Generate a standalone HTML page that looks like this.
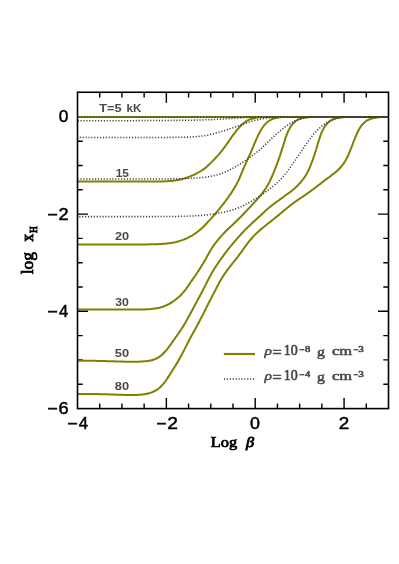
<!DOCTYPE html>
<html><head><meta charset="utf-8"><title>plot</title><style>html,body{margin:0;padding:0;background:#fff}svg{display:block}svg{will-change:transform}</style></head><body>
<svg width="399" height="564" viewBox="0 0 399 564">
<rect width="399" height="564" fill="#fff"/>
<defs><clipPath id="c"><rect x="77.5" y="92.2" width="311.0" height="316.4"/></clipPath></defs>
<path d="M99.71 408.60 v-5.20 M99.71 92.25 v5.20 M121.93 408.60 v-5.20 M121.93 92.25 v5.20 M144.14 408.60 v-5.20 M144.14 92.25 v5.20 M166.36 408.60 v-10.50 M166.36 92.25 v10.50 M188.57 408.60 v-5.20 M188.57 92.25 v5.20 M210.79 408.60 v-5.20 M210.79 92.25 v5.20 M233.00 408.60 v-5.20 M233.00 92.25 v5.20 M255.21 408.60 v-10.50 M255.21 92.25 v10.50 M277.43 408.60 v-5.20 M277.43 92.25 v5.20 M299.64 408.60 v-5.20 M299.64 92.25 v5.20 M321.86 408.60 v-5.20 M321.86 92.25 v5.20 M344.07 408.60 v-10.50 M344.07 92.25 v10.50 M366.29 408.60 v-5.20 M366.29 92.25 v5.20 M77.50 384.20 h5.20 M388.50 384.20 h-5.20 M77.50 359.90 h5.20 M388.50 359.90 h-5.20 M77.50 335.60 h5.20 M388.50 335.60 h-5.20 M77.50 311.30 h10.50 M388.50 311.30 h-10.50 M77.50 287.00 h5.20 M388.50 287.00 h-5.20 M77.50 262.70 h5.20 M388.50 262.70 h-5.20 M77.50 238.40 h5.20 M388.50 238.40 h-5.20 M77.50 214.10 h10.50 M388.50 214.10 h-10.50 M77.50 189.80 h5.20 M388.50 189.80 h-5.20 M77.50 165.50 h5.20 M388.50 165.50 h-5.20 M77.50 141.20 h5.20 M388.50 141.20 h-5.20 M77.50 116.90 h10.50 M388.50 116.90 h-10.50" stroke="#000" stroke-width="1.4" fill="none"/>
<g clip-path="url(#c)" fill="none">
<path d="M77.50 181.50 C77.83 181.50 78.83 181.50 79.50 181.50 C80.17 181.50 80.83 181.50 81.50 181.50 C82.17 181.50 82.83 181.50 83.50 181.50 C84.17 181.50 84.83 181.50 85.50 181.50 C86.17 181.50 86.83 181.50 87.50 181.50 C88.17 181.50 88.83 181.50 89.50 181.50 C90.17 181.50 90.83 181.50 91.50 181.50 C92.17 181.50 92.83 181.50 93.50 181.50 C94.17 181.50 94.83 181.50 95.50 181.50 C96.17 181.50 96.83 181.50 97.50 181.50 C98.17 181.50 98.83 181.50 99.50 181.50 C100.17 181.50 100.83 181.50 101.50 181.50 C102.17 181.50 102.83 181.50 103.50 181.50 C104.17 181.50 104.83 181.50 105.50 181.50 C106.17 181.50 106.83 181.50 107.50 181.50 C108.17 181.50 108.83 181.50 109.50 181.50 C110.17 181.50 110.83 181.50 111.50 181.50 C112.17 181.50 112.83 181.50 113.50 181.50 C114.17 181.50 114.83 181.50 115.50 181.50 C116.17 181.50 116.83 181.50 117.50 181.50 C118.17 181.50 118.83 181.50 119.50 181.50 C120.17 181.50 120.83 181.50 121.50 181.50 C122.17 181.50 122.83 181.50 123.50 181.50 C124.17 181.50 124.83 181.50 125.50 181.50 C126.17 181.50 126.83 181.50 127.50 181.50 C128.17 181.50 128.83 181.50 129.50 181.50 C130.17 181.50 130.83 181.50 131.50 181.50 C132.17 181.50 132.83 181.50 133.50 181.50 C134.17 181.50 134.83 181.50 135.50 181.50 C136.17 181.50 136.83 181.50 137.50 181.50 C138.17 181.50 138.83 181.50 139.50 181.50 C140.17 181.50 140.83 181.50 141.50 181.50 C142.17 181.50 142.84 181.50 143.50 181.50 C144.17 181.50 144.84 181.51 145.51 181.51 C146.17 181.51 146.84 181.51 147.51 181.51 C148.18 181.51 148.85 181.51 149.51 181.51 C150.18 181.52 150.85 181.52 151.52 181.52 C152.18 181.52 152.85 181.52 153.52 181.52 C154.18 181.52 154.85 181.52 155.52 181.52 C156.18 181.52 156.85 181.51 157.51 181.51 C158.17 181.50 158.83 181.50 159.49 181.49 C160.15 181.48 160.80 181.47 161.46 181.46 C162.11 181.44 162.76 181.43 163.41 181.41 C164.05 181.39 164.70 181.37 165.34 181.34 C165.97 181.31 166.61 181.28 167.24 181.24 C167.87 181.21 168.50 181.17 169.12 181.12 C169.74 181.08 170.36 181.02 170.97 180.97 C171.57 180.91 172.18 180.85 172.78 180.78 C173.37 180.71 173.97 180.63 174.55 180.55 C175.13 180.47 175.72 180.38 176.29 180.29 C176.86 180.20 177.43 180.09 177.99 179.99 C178.54 179.88 179.10 179.77 179.65 179.65 C180.19 179.53 180.74 179.40 181.27 179.27 C181.80 179.14 182.34 179.00 182.86 178.86 C183.38 178.72 183.90 178.57 184.41 178.41 C184.92 178.26 185.43 178.10 185.94 177.94 C186.43 177.77 186.93 177.60 187.43 177.43 C187.92 177.25 188.41 177.07 188.89 176.89 C189.37 176.71 189.85 176.52 190.32 176.32 C190.80 176.13 191.27 175.94 191.74 175.74 C192.20 175.54 192.67 175.33 193.13 175.13 C193.59 174.92 194.05 174.71 194.50 174.50 C194.95 174.29 195.40 174.07 195.85 173.85 C196.29 173.63 196.74 173.41 197.18 173.18 C197.61 172.95 198.05 172.71 198.47 172.47 C198.90 172.24 199.33 171.99 199.74 171.74 C200.16 171.49 200.57 171.24 200.98 170.98 C201.38 170.72 201.79 170.45 202.18 170.18 C202.58 169.91 202.97 169.64 203.36 169.36 C203.74 169.08 204.13 168.79 204.50 168.50 C204.88 168.21 205.25 167.92 205.62 167.62 C205.98 167.32 206.35 167.01 206.71 166.71 C207.06 166.40 207.42 166.09 207.77 165.77 C208.12 165.46 208.47 165.14 208.82 164.82 C209.16 164.49 209.50 164.17 209.84 163.84 C210.19 163.52 210.52 163.19 210.86 162.86 C211.20 162.53 211.53 162.20 211.86 161.86 C212.20 161.53 212.53 161.20 212.86 160.86 C213.19 160.52 213.52 160.18 213.84 159.84 C214.17 159.50 214.49 159.16 214.82 158.82 C215.14 158.47 215.46 158.13 215.78 157.78 C216.10 157.44 216.42 157.09 216.74 156.74 C217.06 156.39 217.38 156.04 217.69 155.69 C218.00 155.34 218.32 154.98 218.63 154.63 C218.94 154.27 219.25 153.92 219.56 153.56 C219.86 153.20 220.17 152.84 220.47 152.47 C220.78 152.11 221.08 151.74 221.38 151.38 C221.67 151.01 221.97 150.64 222.27 150.27 C222.56 149.89 222.85 149.52 223.14 149.14 C223.43 148.76 223.72 148.38 224.00 148.00 C224.28 147.62 224.57 147.23 224.85 146.85 C225.13 146.46 225.40 146.07 225.68 145.68 C225.96 145.29 226.23 144.90 226.50 144.50 C226.78 144.11 227.05 143.72 227.32 143.32 C227.59 142.92 227.86 142.53 228.13 142.13 C228.40 141.74 228.67 141.34 228.94 140.94 C229.21 140.55 229.48 140.15 229.75 139.75 C230.03 139.36 230.30 138.96 230.57 138.57 C230.84 138.18 231.12 137.79 231.39 137.39 C231.67 137.00 231.95 136.61 232.23 136.23 C232.51 135.84 232.79 135.45 233.07 135.07 C233.35 134.68 233.63 134.30 233.92 133.92 C234.21 133.54 234.49 133.16 234.79 132.79 C235.08 132.41 235.37 132.03 235.66 131.66 C235.96 131.29 236.25 130.92 236.55 130.55 C236.85 130.19 237.15 129.82 237.46 129.46 C237.76 129.10 238.07 128.74 238.38 128.38 C238.69 128.02 239.00 127.67 239.32 127.32 C239.64 126.97 239.95 126.62 240.28 126.28 C240.60 125.94 240.93 125.60 241.27 125.27 C241.60 124.94 241.94 124.61 242.29 124.29 C242.64 123.97 243.00 123.66 243.36 123.36 C243.72 123.06 244.10 122.76 244.48 122.48 C244.86 122.20 245.26 121.92 245.66 121.66 C246.06 121.39 246.48 121.14 246.90 120.90 C247.32 120.66 247.76 120.42 248.21 120.21 C248.66 119.99 249.12 119.78 249.59 119.59 C250.06 119.39 250.55 119.21 251.04 119.04 C251.53 118.87 252.05 118.71 252.56 118.56 C253.08 118.41 253.62 118.27 254.15 118.15 C254.69 118.03 255.26 117.91 255.81 117.81 C256.37 117.71 256.96 117.62 257.53 117.53 C258.12 117.45 258.72 117.38 259.32 117.32 C259.92 117.25 260.54 117.20 261.15 117.15 C261.77 117.10 262.40 117.06 263.03 117.03 C263.66 116.99 264.31 116.97 264.95 116.95 C265.59 116.92 266.25 116.91 266.90 116.90 C267.55 116.89 268.21 116.90 268.87 116.90 C269.53 116.90 270.20 116.90 270.86 116.90 C271.53 116.90 272.19 116.90 272.86 116.90 C273.53 116.90 274.20 116.90 274.87 116.90 C275.54 116.90 276.21 116.90 276.88 116.90 C277.54 116.90 278.21 116.90 278.88 116.90 C279.55 116.90 280.22 116.90 280.89 116.90 C281.56 116.90 282.23 116.90 282.89 116.90 C283.56 116.90 284.23 116.90 284.90 116.90 C285.57 116.90 286.23 116.90 286.90 116.90 C287.57 116.90 288.23 116.90 288.90 116.90 C289.57 116.90 290.24 116.90 290.90 116.90 C291.57 116.90 292.24 116.90 292.90 116.90 C293.57 116.90 294.23 116.90 294.90 116.90 C295.57 116.90 296.23 116.90 296.90 116.90 C297.57 116.90 298.23 116.90 298.90 116.90 C299.57 116.90 300.23 116.90 300.90 116.90 C301.57 116.90 302.23 116.90 302.90 116.90 C317.50 116.90 374.23 116.90 388.50 116.90" stroke="#808000" stroke-width="2" stroke-linejoin="round"/>
<path d="M77.50 244.40 C77.83 244.40 78.83 244.40 79.50 244.40 C80.17 244.40 80.83 244.40 81.50 244.40 C82.17 244.40 82.83 244.40 83.50 244.40 C84.17 244.40 84.83 244.40 85.50 244.40 C86.17 244.40 86.83 244.40 87.50 244.40 C88.17 244.40 88.83 244.40 89.50 244.40 C90.17 244.40 90.83 244.40 91.50 244.40 C92.17 244.40 92.83 244.40 93.50 244.40 C94.17 244.40 94.83 244.40 95.50 244.40 C96.17 244.40 96.83 244.40 97.50 244.40 C98.17 244.40 98.83 244.40 99.50 244.40 C100.17 244.40 100.83 244.40 101.50 244.40 C102.17 244.40 102.83 244.40 103.50 244.40 C104.17 244.40 104.83 244.40 105.50 244.40 C106.17 244.40 106.83 244.40 107.50 244.40 C108.17 244.40 108.83 244.40 109.50 244.40 C110.17 244.40 110.83 244.40 111.50 244.40 C112.17 244.40 112.83 244.40 113.50 244.40 C114.17 244.40 114.83 244.40 115.50 244.40 C116.17 244.40 116.83 244.40 117.50 244.40 C118.17 244.40 118.83 244.40 119.50 244.40 C120.17 244.40 120.83 244.40 121.50 244.40 C122.17 244.40 122.83 244.40 123.50 244.40 C124.17 244.40 124.83 244.40 125.50 244.40 C126.17 244.40 126.83 244.40 127.50 244.40 C128.17 244.40 128.83 244.40 129.50 244.40 C130.17 244.40 130.84 244.40 131.50 244.40 C132.17 244.40 132.84 244.40 133.50 244.40 C134.17 244.41 134.84 244.41 135.51 244.41 C136.17 244.41 136.84 244.41 137.51 244.41 C138.18 244.41 138.84 244.41 139.51 244.41 C140.18 244.41 140.85 244.41 141.51 244.41 C142.18 244.41 142.85 244.41 143.51 244.41 C144.18 244.41 144.84 244.41 145.51 244.41 C146.17 244.40 146.83 244.40 147.50 244.40 C148.16 244.39 148.82 244.38 149.47 244.37 C150.13 244.37 150.79 244.36 151.44 244.34 C152.09 244.33 152.75 244.31 153.40 244.30 C154.04 244.28 154.69 244.26 155.34 244.24 C155.98 244.22 156.63 244.19 157.27 244.17 C157.90 244.14 158.54 244.11 159.18 244.08 C159.81 244.05 160.45 244.01 161.07 243.97 C161.70 243.94 162.33 243.90 162.95 243.85 C163.57 243.81 164.20 243.76 164.81 243.71 C165.42 243.66 166.04 243.60 166.64 243.54 C167.24 243.48 167.85 243.41 168.44 243.34 C169.03 243.27 169.62 243.19 170.21 243.11 C170.78 243.02 171.37 242.93 171.94 242.84 C172.50 242.74 173.07 242.64 173.63 242.53 C174.18 242.42 174.73 242.30 175.28 242.18 C175.82 242.06 176.36 241.93 176.89 241.79 C177.42 241.66 177.95 241.51 178.47 241.37 C178.98 241.22 179.50 241.06 180.01 240.91 C180.51 240.75 181.01 240.58 181.51 240.41 C182.00 240.24 182.49 240.06 182.98 239.88 C183.46 239.70 183.94 239.51 184.41 239.31 C184.88 239.12 185.35 238.92 185.82 238.72 C186.28 238.51 186.73 238.30 187.19 238.09 C187.64 237.87 188.09 237.65 188.53 237.43 C188.97 237.20 189.41 236.97 189.84 236.74 C190.27 236.51 190.70 236.27 191.12 236.02 C191.55 235.78 191.97 235.53 192.38 235.28 C192.79 235.03 193.21 234.77 193.61 234.51 C194.02 234.25 194.42 233.99 194.82 233.72 C195.22 233.45 195.61 233.18 196.00 232.90 C196.39 232.62 196.77 232.34 197.16 232.06 C197.54 231.77 197.91 231.48 198.29 231.19 C198.66 230.89 199.03 230.60 199.39 230.29 C199.76 229.99 200.12 229.69 200.48 229.38 C200.83 229.07 201.19 228.75 201.54 228.44 C201.89 228.12 202.23 227.80 202.58 227.48 C202.92 227.15 203.26 226.83 203.60 226.50 C203.94 226.17 204.27 225.84 204.60 225.50 C204.94 225.17 205.27 224.83 205.59 224.49 C205.92 224.16 206.25 223.82 206.57 223.47 C206.90 223.13 207.22 222.79 207.54 222.44 C207.86 222.10 208.18 221.75 208.50 221.40 C208.82 221.06 209.14 220.71 209.46 220.36 C209.78 220.01 210.09 219.66 210.41 219.31 C210.72 218.96 211.04 218.61 211.35 218.25 C211.67 217.90 211.98 217.55 212.29 217.19 C212.61 216.84 212.92 216.49 213.23 216.13 C213.54 215.78 213.85 215.42 214.16 215.06 C214.47 214.71 214.78 214.35 215.09 213.99 C215.40 213.63 215.71 213.27 216.01 212.91 C216.32 212.55 216.62 212.19 216.93 211.83 C217.23 211.47 217.54 211.10 217.84 210.74 C218.14 210.38 218.44 210.01 218.75 209.65 C219.05 209.28 219.35 208.91 219.65 208.55 C219.95 208.18 220.24 207.81 220.54 207.44 C220.84 207.07 221.13 206.70 221.43 206.33 C221.72 205.96 222.02 205.59 222.31 205.21 C222.61 204.84 222.90 204.46 223.19 204.09 C223.48 203.71 223.77 203.34 224.06 202.96 C224.35 202.58 224.64 202.20 224.92 201.82 C225.21 201.44 225.49 201.06 225.78 200.68 C226.06 200.30 226.35 199.91 226.63 199.53 C226.91 199.14 227.19 198.76 227.47 198.37 C227.75 197.98 228.03 197.59 228.30 197.20 C228.58 196.81 228.86 196.42 229.13 196.03 C229.40 195.64 229.68 195.24 229.95 194.85 C230.22 194.46 230.49 194.06 230.76 193.66 C231.03 193.26 231.30 192.87 231.57 192.47 C231.83 192.06 232.10 191.66 232.36 191.26 C232.62 190.85 232.88 190.45 233.14 190.04 C233.40 189.63 233.66 189.22 233.91 188.81 C234.16 188.40 234.41 187.98 234.66 187.56 C234.91 187.14 235.16 186.72 235.40 186.30 C235.64 185.88 235.88 185.45 236.12 185.02 C236.36 184.59 236.60 184.16 236.83 183.73 C237.06 183.29 237.29 182.85 237.51 182.41 C237.74 181.97 237.96 181.52 238.18 181.08 C238.39 180.63 238.61 180.17 238.82 179.72 C239.03 179.26 239.23 178.80 239.44 178.34 C239.64 177.87 239.84 177.41 240.04 176.94 C240.24 176.47 240.43 176.00 240.63 175.53 C240.83 175.06 241.02 174.59 241.21 174.11 C241.41 173.64 241.60 173.17 241.80 172.70 C241.99 172.23 242.19 171.75 242.38 171.28 C242.58 170.81 242.78 170.35 242.98 169.88 C243.18 169.41 243.37 168.94 243.57 168.47 C243.78 168.01 243.98 167.54 244.18 167.08 C244.38 166.61 244.58 166.15 244.79 165.69 C244.99 165.23 245.20 164.76 245.40 164.30 C245.61 163.84 245.81 163.38 246.02 162.92 C246.23 162.46 246.44 162.00 246.64 161.54 C246.85 161.09 247.06 160.63 247.27 160.17 C247.48 159.71 247.69 159.25 247.90 158.80 C248.10 158.34 248.31 157.88 248.52 157.42 C248.73 156.96 248.94 156.51 249.15 156.05 C249.36 155.59 249.56 155.13 249.77 154.67 C249.98 154.21 250.19 153.75 250.39 153.29 C250.60 152.83 250.80 152.37 251.00 151.90 C251.21 151.44 251.41 150.97 251.61 150.51 C251.81 150.04 252.01 149.57 252.21 149.11 C252.40 148.64 252.60 148.17 252.80 147.70 C252.99 147.23 253.19 146.75 253.38 146.28 C253.58 145.81 253.77 145.34 253.96 144.86 C254.16 144.39 254.35 143.92 254.55 143.45 C254.74 142.97 254.94 142.50 255.13 142.03 C255.33 141.56 255.53 141.09 255.73 140.63 C255.92 140.16 256.13 139.69 256.33 139.23 C256.53 138.77 256.74 138.30 256.95 137.85 C257.15 137.39 257.36 136.93 257.58 136.48 C257.79 136.02 258.00 135.57 258.22 135.12 C258.44 134.67 258.66 134.23 258.89 133.79 C259.11 133.35 259.34 132.91 259.57 132.47 C259.80 132.04 260.04 131.61 260.28 131.18 C260.52 130.76 260.77 130.33 261.02 129.92 C261.27 129.50 261.52 129.09 261.78 128.68 C262.04 128.27 262.30 127.87 262.58 127.48 C262.85 127.08 263.13 126.69 263.41 126.31 C263.70 125.93 263.99 125.56 264.29 125.19 C264.60 124.83 264.91 124.47 265.23 124.13 C265.55 123.78 265.88 123.44 266.22 123.12 C266.56 122.79 266.91 122.47 267.27 122.17 C267.63 121.86 268.01 121.57 268.39 121.29 C268.78 121.01 269.18 120.74 269.59 120.49 C270.00 120.23 270.43 119.99 270.86 119.76 C271.30 119.53 271.76 119.32 272.22 119.12 C272.68 118.92 273.17 118.73 273.66 118.56 C274.15 118.39 274.67 118.23 275.19 118.09 C275.71 117.94 276.26 117.81 276.80 117.70 C277.35 117.58 277.93 117.48 278.49 117.39 C279.07 117.31 279.67 117.23 280.27 117.17 C280.87 117.10 281.50 117.05 282.11 117.01 C282.74 116.97 283.38 116.93 284.01 116.91 C284.65 116.89 285.31 116.90 285.96 116.90 C286.61 116.90 287.28 116.90 287.94 116.90 C288.60 116.90 289.27 116.90 289.93 116.90 C290.60 116.90 291.27 116.90 291.94 116.90 C292.61 116.90 293.28 116.90 293.95 116.90 C294.63 116.90 295.30 116.90 295.97 116.90 C296.64 116.90 297.31 116.90 297.98 116.90 C298.65 116.90 299.32 116.90 299.99 116.90 C300.66 116.90 301.33 116.90 302.00 116.90 C302.66 116.90 303.33 116.90 304.00 116.90 C304.67 116.90 305.33 116.90 306.00 116.90 C306.67 116.90 307.34 116.90 308.00 116.90 C308.67 116.90 309.34 116.90 310.00 116.90 C310.67 116.90 311.34 116.90 312.00 116.90 C312.67 116.90 313.34 116.90 314.00 116.90 C314.67 116.90 315.33 116.90 316.00 116.90 C316.67 116.90 317.33 116.90 318.00 116.90 C318.67 116.90 319.33 116.90 320.00 116.90 C320.67 116.90 321.33 116.90 322.00 116.90 C333.42 116.90 377.42 116.90 388.50 116.90" stroke="#808000" stroke-width="2" stroke-linejoin="round"/>
<path d="M77.50 309.50 C77.83 309.50 78.83 309.50 79.50 309.50 C80.17 309.50 80.83 309.50 81.50 309.50 C82.17 309.50 82.83 309.50 83.50 309.50 C84.17 309.50 84.83 309.50 85.50 309.50 C86.17 309.50 86.83 309.50 87.50 309.50 C88.17 309.50 88.83 309.50 89.50 309.50 C90.17 309.50 90.83 309.50 91.50 309.50 C92.17 309.50 92.83 309.50 93.50 309.50 C94.17 309.50 94.83 309.50 95.50 309.50 C96.17 309.50 96.83 309.50 97.50 309.50 C98.17 309.50 98.83 309.50 99.50 309.50 C100.17 309.50 100.83 309.50 101.50 309.50 C102.17 309.50 102.83 309.50 103.50 309.50 C104.17 309.50 104.83 309.50 105.50 309.50 C106.17 309.50 106.83 309.50 107.50 309.50 C108.17 309.50 108.83 309.50 109.50 309.50 C110.17 309.50 110.83 309.50 111.50 309.50 C112.17 309.50 112.83 309.50 113.50 309.50 C114.17 309.50 114.83 309.50 115.50 309.50 C116.17 309.50 116.83 309.50 117.50 309.50 C118.17 309.50 118.83 309.50 119.50 309.50 C120.17 309.50 120.83 309.50 121.50 309.50 C122.17 309.50 122.83 309.50 123.50 309.50 C124.17 309.50 124.84 309.50 125.50 309.50 C126.17 309.51 126.84 309.51 127.51 309.51 C128.18 309.51 128.84 309.51 129.51 309.51 C130.18 309.51 130.85 309.52 131.52 309.52 C132.19 309.52 132.85 309.52 133.52 309.52 C134.19 309.52 134.86 309.52 135.52 309.52 C136.19 309.52 136.86 309.52 137.52 309.52 C138.18 309.52 138.85 309.51 139.51 309.51 C140.17 309.50 140.83 309.50 141.49 309.49 C142.14 309.48 142.80 309.46 143.45 309.45 C144.09 309.43 144.74 309.41 145.39 309.39 C146.02 309.36 146.67 309.33 147.30 309.30 C147.93 309.27 148.56 309.23 149.18 309.18 C149.80 309.14 150.42 309.09 151.03 309.03 C151.64 308.98 152.25 308.91 152.84 308.84 C153.43 308.77 154.03 308.70 154.61 308.61 C155.19 308.53 155.77 308.44 156.34 308.34 C156.90 308.24 157.47 308.13 158.02 308.02 C158.56 307.90 159.11 307.78 159.64 307.64 C160.17 307.51 160.70 307.37 161.21 307.21 C161.72 307.06 162.23 306.90 162.73 306.73 C163.22 306.56 163.72 306.38 164.20 306.20 C164.68 306.01 165.15 305.82 165.62 305.62 C166.08 305.42 166.54 305.21 166.99 304.99 C167.44 304.78 167.89 304.56 168.33 304.33 C168.76 304.10 169.19 303.86 169.62 303.62 C170.04 303.38 170.46 303.13 170.87 302.87 C171.28 302.62 171.69 302.36 172.09 302.09 C172.49 301.83 172.89 301.56 173.28 301.28 C173.67 301.01 174.06 300.73 174.45 300.45 C174.83 300.17 175.21 299.88 175.59 299.59 C175.97 299.30 176.34 299.01 176.71 298.71 C177.08 298.41 177.45 298.11 177.81 297.81 C178.17 297.51 178.53 297.20 178.88 296.88 C179.24 296.57 179.58 296.25 179.93 295.93 C180.27 295.60 180.61 295.28 180.94 294.94 C181.28 294.61 181.61 294.27 181.93 293.93 C182.25 293.59 182.57 293.24 182.88 292.88 C183.20 292.53 183.50 292.17 183.80 291.80 C184.11 291.44 184.40 291.07 184.69 290.69 C184.99 290.32 185.27 289.94 185.56 289.56 C185.85 289.18 186.13 288.79 186.41 288.41 C186.69 288.02 186.96 287.63 187.24 287.24 C187.51 286.85 187.78 286.45 188.06 286.06 C188.33 285.66 188.60 285.27 188.87 284.87 C189.14 284.47 189.41 284.08 189.68 283.68 C189.95 283.29 190.22 282.89 190.49 282.49 C190.77 282.10 191.04 281.71 191.31 281.31 C191.58 280.92 191.86 280.53 192.13 280.13 C192.41 279.74 192.68 279.35 192.95 278.95 C193.23 278.56 193.50 278.17 193.78 277.78 C194.05 277.38 194.32 276.99 194.59 276.59 C194.87 276.20 195.14 275.80 195.41 275.41 C195.68 275.01 195.95 274.61 196.21 274.21 C196.48 273.82 196.75 273.42 197.02 273.02 C197.28 272.61 197.55 272.21 197.81 271.81 C198.07 271.41 198.34 271.00 198.60 270.60 C198.86 270.20 199.12 269.79 199.38 269.38 C199.64 268.98 199.90 268.57 200.16 268.16 C200.42 267.75 200.68 267.34 200.93 266.93 C201.19 266.52 201.44 266.11 201.70 265.70 C201.95 265.28 202.20 264.87 202.46 264.46 C202.71 264.04 202.96 263.62 203.21 263.21 C203.46 262.79 203.71 262.37 203.96 261.96 C204.20 261.54 204.45 261.12 204.70 260.70 C204.94 260.28 205.19 259.85 205.43 259.43 C205.68 259.01 205.92 258.58 206.16 258.16 C206.40 257.73 206.64 257.30 206.88 256.88 C207.12 256.45 207.35 256.02 207.59 255.59 C207.83 255.16 208.07 254.73 208.31 254.31 C208.54 253.88 208.78 253.45 209.02 253.02 C209.26 252.60 209.50 252.17 209.74 251.74 C209.99 251.32 210.23 250.90 210.48 250.48 C210.73 250.06 210.98 249.64 211.23 249.23 C211.48 248.82 211.74 248.41 212.00 248.00 C212.26 247.59 212.52 247.19 212.79 246.79 C213.06 246.39 213.33 245.99 213.60 245.60 C213.87 245.21 214.15 244.82 214.43 244.43 C214.71 244.04 214.99 243.66 215.27 243.27 C215.56 242.89 215.85 242.51 216.14 242.14 C216.43 241.76 216.72 241.39 217.02 241.02 C217.32 240.65 217.62 240.28 217.92 239.92 C218.22 239.55 218.52 239.19 218.83 238.83 C219.13 238.47 219.44 238.11 219.75 237.75 C220.06 237.40 220.38 237.04 220.69 236.69 C221.01 236.34 221.32 235.99 221.64 235.64 C221.96 235.29 222.28 234.95 222.60 234.60 C222.93 234.26 223.25 233.92 223.58 233.58 C223.90 233.24 224.23 232.90 224.56 232.56 C224.89 232.22 225.22 231.88 225.55 231.55 C225.88 231.22 226.22 230.88 226.55 230.55 C226.88 230.22 227.22 229.89 227.56 229.56 C227.89 229.23 228.23 228.90 228.57 228.57 C228.91 228.25 229.25 227.92 229.59 227.59 C229.94 227.27 230.28 226.94 230.62 226.62 C230.96 226.30 231.31 225.98 231.65 225.65 C232.00 225.33 232.34 225.01 232.69 224.69 C233.03 224.36 233.37 224.04 233.72 223.72 C234.06 223.40 234.41 223.07 234.75 222.75 C235.09 222.42 235.43 222.10 235.77 221.77 C236.11 221.45 236.45 221.12 236.79 220.79 C237.13 220.46 237.47 220.13 237.80 219.80 C238.14 219.47 238.47 219.14 238.80 218.80 C239.13 218.47 239.46 218.13 239.79 217.79 C240.13 217.46 240.46 217.12 240.79 216.79 C241.12 216.45 241.45 216.11 241.78 215.78 C242.10 215.44 242.43 215.10 242.76 214.76 C243.09 214.42 243.41 214.08 243.74 213.74 C244.06 213.39 244.38 213.05 244.71 212.71 C245.03 212.37 245.36 212.02 245.68 211.68 C246.00 211.34 246.33 210.99 246.65 210.65 C246.97 210.31 247.30 209.97 247.62 209.62 C247.95 209.28 248.27 208.94 248.59 208.59 C248.92 208.25 249.24 207.91 249.56 207.56 C249.89 207.22 250.21 206.87 250.53 206.53 C250.85 206.19 251.17 205.84 251.50 205.50 C251.82 205.15 252.14 204.81 252.46 204.46 C252.78 204.11 253.10 203.77 253.42 203.42 C253.74 203.08 254.06 202.73 254.38 202.38 C254.70 202.03 255.02 201.69 255.34 201.34 C255.65 200.99 255.97 200.64 256.29 200.29 C256.60 199.94 256.92 199.59 257.23 199.23 C257.55 198.88 257.86 198.53 258.17 198.17 C258.48 197.82 258.79 197.46 259.10 197.10 C259.41 196.74 259.72 196.38 260.02 196.02 C260.33 195.66 260.63 195.30 260.93 194.93 C261.23 194.56 261.53 194.19 261.82 193.82 C262.11 193.45 262.41 193.07 262.70 192.70 C262.98 192.32 263.27 191.94 263.55 191.55 C263.83 191.17 264.11 190.78 264.38 190.38 C264.66 189.99 264.93 189.60 265.20 189.20 C265.46 188.80 265.73 188.39 265.99 187.99 C266.24 187.58 266.50 187.17 266.75 186.75 C267.00 186.34 267.25 185.92 267.50 185.50 C267.74 185.07 267.98 184.65 268.22 184.22 C268.46 183.79 268.69 183.36 268.92 182.92 C269.15 182.49 269.38 182.04 269.60 181.60 C269.83 181.16 270.05 180.71 270.26 180.26 C270.48 179.81 270.69 179.36 270.90 178.90 C271.11 178.44 271.32 177.98 271.52 177.52 C271.73 177.06 271.93 176.60 272.14 176.14 C272.34 175.67 272.54 175.20 272.73 174.73 C272.93 174.27 273.13 173.80 273.32 173.32 C273.52 172.85 273.71 172.38 273.91 171.91 C274.10 171.43 274.29 170.95 274.48 170.48 C274.67 170.00 274.86 169.52 275.04 169.04 C275.23 168.56 275.42 168.08 275.60 167.60 C275.79 167.12 275.97 166.64 276.16 166.16 C276.34 165.67 276.52 165.19 276.70 164.70 C276.89 164.22 277.07 163.73 277.25 163.25 C277.43 162.76 277.60 162.27 277.78 161.78 C277.96 161.29 278.14 160.80 278.31 160.31 C278.49 159.82 278.66 159.33 278.83 158.83 C279.01 158.34 279.18 157.85 279.35 157.35 C279.52 156.85 279.69 156.36 279.86 155.86 C280.03 155.36 280.19 154.86 280.36 154.36 C280.53 153.86 280.69 153.36 280.86 152.86 C281.02 152.35 281.18 151.85 281.34 151.34 C281.51 150.84 281.67 150.33 281.83 149.83 C281.99 149.32 282.15 148.82 282.31 148.31 C282.47 147.80 282.63 147.30 282.79 146.79 C282.95 146.28 283.11 145.77 283.26 145.26 C283.42 144.75 283.58 144.24 283.73 143.73 C283.89 143.22 284.04 142.71 284.20 142.20 C284.36 141.69 284.52 141.18 284.68 140.68 C284.84 140.17 285.00 139.67 285.16 139.16 C285.33 138.66 285.50 138.16 285.67 137.67 C285.84 137.17 286.01 136.68 286.19 136.19 C286.36 135.70 286.54 135.21 286.73 134.73 C286.91 134.25 287.10 133.77 287.30 133.30 C287.49 132.82 287.69 132.35 287.89 131.89 C288.09 131.43 288.30 130.97 288.52 130.52 C288.74 130.07 288.96 129.63 289.19 129.19 C289.42 128.75 289.65 128.32 289.90 127.90 C290.14 127.48 290.39 127.06 290.65 126.65 C290.91 126.25 291.18 125.85 291.46 125.46 C291.74 125.07 292.03 124.69 292.33 124.33 C292.62 123.96 292.93 123.60 293.26 123.26 C293.58 122.91 293.92 122.58 294.26 122.26 C294.61 121.95 294.97 121.64 295.35 121.35 C295.72 121.06 296.12 120.78 296.52 120.52 C296.92 120.26 297.35 120.01 297.78 119.78 C298.22 119.55 298.67 119.33 299.13 119.13 C299.60 118.93 300.09 118.74 300.58 118.58 C301.07 118.41 301.59 118.25 302.11 118.11 C302.64 117.97 303.19 117.84 303.73 117.73 C304.29 117.62 304.86 117.52 305.43 117.43 C306.01 117.35 306.61 117.27 307.21 117.21 C307.81 117.14 308.43 117.09 309.05 117.05 C309.67 117.00 310.31 116.97 310.94 116.94 C311.58 116.92 312.23 116.91 312.88 116.90 C313.53 116.89 314.19 116.90 314.85 116.90 C315.51 116.90 316.18 116.90 316.84 116.90 C317.51 116.90 318.18 116.90 318.85 116.90 C319.51 116.90 320.19 116.90 320.86 116.90 C321.53 116.90 322.20 116.90 322.87 116.90 C323.54 116.90 324.21 116.90 324.88 116.90 C325.55 116.90 326.22 116.90 326.89 116.90 C327.56 116.90 328.23 116.90 328.89 116.90 C329.56 116.90 330.23 116.90 330.90 116.90 C331.57 116.90 332.23 116.90 332.90 116.90 C333.57 116.90 334.24 116.90 334.90 116.90 C335.57 116.90 336.24 116.90 336.90 116.90 C337.57 116.90 338.24 116.90 338.90 116.90 C339.57 116.90 340.24 116.90 340.90 116.90 C341.57 116.90 342.23 116.90 342.90 116.90 C343.57 116.90 344.23 116.90 344.90 116.90 C345.57 116.90 346.23 116.90 346.90 116.90 C347.57 116.90 348.23 116.90 348.90 116.90 C349.57 116.90 350.23 116.90 350.90 116.90 C357.50 116.90 382.23 116.90 388.50 116.90" stroke="#808000" stroke-width="2" stroke-linejoin="round"/>
<path d="M77.50 360.77 C77.83 360.77 78.82 360.77 79.47 360.77 C80.14 360.77 80.81 360.78 81.48 360.78 C82.14 360.78 82.81 360.78 83.48 360.78 C84.15 360.78 84.82 360.78 85.49 360.79 C86.16 360.79 86.83 360.79 87.50 360.80 C88.17 360.80 88.84 360.80 89.51 360.81 C90.18 360.81 90.85 360.82 91.53 360.83 C92.20 360.83 92.87 360.84 93.55 360.85 C94.22 360.86 94.90 360.86 95.57 360.87 C96.25 360.88 96.93 360.90 97.61 360.91 C98.29 360.92 98.97 360.93 99.65 360.95 C100.33 360.96 101.01 360.98 101.69 360.99 C102.38 361.01 103.06 361.03 103.74 361.04 C104.43 361.06 105.11 361.08 105.80 361.10 C106.49 361.12 107.17 361.14 107.86 361.16 C108.55 361.18 109.23 361.20 109.92 361.22 C110.61 361.24 111.30 361.26 111.99 361.29 C112.67 361.31 113.36 361.33 114.05 361.35 C114.74 361.37 115.43 361.39 116.11 361.41 C116.80 361.44 117.49 361.46 118.18 361.48 C118.86 361.50 119.55 361.52 120.24 361.54 C120.92 361.55 121.61 361.57 122.29 361.59 C122.97 361.61 123.66 361.63 124.34 361.64 C125.02 361.66 125.71 361.67 126.39 361.69 C127.06 361.70 127.74 361.71 128.42 361.72 C129.10 361.73 129.77 361.74 130.45 361.75 C131.12 361.75 131.79 361.76 132.46 361.76 C133.12 361.76 133.79 361.76 134.45 361.75 C135.11 361.75 135.77 361.74 136.43 361.73 C137.08 361.72 137.74 361.70 138.38 361.68 C139.03 361.66 139.68 361.64 140.31 361.61 C140.95 361.58 141.58 361.55 142.21 361.51 C142.83 361.47 143.46 361.42 144.07 361.37 C144.68 361.32 145.29 361.26 145.89 361.19 C146.48 361.12 147.08 361.05 147.66 360.96 C148.24 360.88 148.82 360.79 149.38 360.68 C149.94 360.58 150.50 360.47 151.04 360.34 C151.58 360.22 152.12 360.09 152.64 359.94 C153.15 359.79 153.66 359.63 154.16 359.46 C154.64 359.29 155.13 359.10 155.59 358.89 C156.05 358.69 156.51 358.48 156.95 358.25 C157.38 358.02 157.81 357.78 158.23 357.53 C158.64 357.28 159.05 357.01 159.44 356.74 C159.83 356.47 160.21 356.18 160.59 355.89 C160.96 355.60 161.33 355.29 161.68 354.98 C162.04 354.67 162.39 354.35 162.73 354.03 C163.07 353.70 163.41 353.37 163.73 353.03 C164.06 352.70 164.39 352.35 164.71 352.01 C165.02 351.66 165.34 351.30 165.65 350.95 C165.96 350.59 166.26 350.23 166.56 349.86 C166.86 349.50 167.16 349.13 167.46 348.76 C167.75 348.39 168.05 348.01 168.34 347.64 C168.63 347.26 168.91 346.88 169.20 346.50 C169.49 346.12 169.77 345.74 170.05 345.35 C170.33 344.97 170.62 344.58 170.89 344.19 C171.17 343.81 171.45 343.42 171.73 343.03 C172.01 342.64 172.28 342.25 172.56 341.86 C172.84 341.47 173.11 341.08 173.38 340.68 C173.66 340.29 173.93 339.90 174.21 339.51 C174.48 339.11 174.75 338.72 175.03 338.33 C175.30 337.94 175.58 337.54 175.85 337.15 C176.13 336.76 176.40 336.37 176.67 335.97 C176.95 335.58 177.22 335.19 177.50 334.80 C177.77 334.40 178.04 334.01 178.32 333.62 C178.59 333.22 178.86 332.83 179.14 332.44 C179.41 332.04 179.68 331.65 179.95 331.25 C180.22 330.86 180.49 330.46 180.76 330.06 C181.03 329.66 181.29 329.26 181.56 328.86 C181.82 328.45 182.08 328.04 182.34 327.64 C182.60 327.23 182.85 326.82 183.11 326.41 C183.36 326.00 183.62 325.59 183.87 325.17 C184.12 324.76 184.38 324.34 184.62 323.92 C184.87 323.51 185.12 323.09 185.37 322.67 C185.61 322.25 185.86 321.82 186.10 321.40 C186.34 320.97 186.58 320.55 186.82 320.12 C187.06 319.69 187.30 319.26 187.54 318.84 C187.77 318.41 188.01 317.98 188.24 317.54 C188.48 317.11 188.72 316.68 188.95 316.25 C189.18 315.82 189.42 315.38 189.65 314.95 C189.88 314.52 190.12 314.08 190.35 313.65 C190.58 313.22 190.82 312.78 191.05 312.35 C191.28 311.91 191.51 311.48 191.74 311.04 C191.98 310.61 192.21 310.17 192.44 309.74 C192.67 309.31 192.90 308.87 193.14 308.44 C193.37 308.00 193.60 307.57 193.83 307.13 C194.07 306.70 194.30 306.26 194.53 305.83 C194.76 305.40 195.00 304.96 195.23 304.53 C195.46 304.09 195.69 303.66 195.93 303.23 C196.16 302.79 196.39 302.36 196.63 301.93 C196.86 301.49 197.09 301.06 197.33 300.63 C197.56 300.20 197.80 299.76 198.03 299.33 C198.26 298.90 198.50 298.47 198.73 298.03 C198.97 297.60 199.20 297.17 199.43 296.73 C199.67 296.30 199.90 295.87 200.13 295.43 C200.37 295.00 200.60 294.56 200.83 294.13 C201.06 293.70 201.29 293.26 201.52 292.82 C201.75 292.39 201.98 291.95 202.21 291.51 C202.44 291.08 202.67 290.64 202.90 290.20 C203.13 289.76 203.35 289.32 203.58 288.88 C203.80 288.44 204.03 287.99 204.25 287.55 C204.48 287.11 204.70 286.67 204.92 286.22 C205.15 285.78 205.37 285.34 205.59 284.89 C205.81 284.45 206.04 284.00 206.26 283.56 C206.48 283.12 206.71 282.67 206.93 282.23 C207.15 281.79 207.38 281.35 207.60 280.90 C207.83 280.46 208.05 280.02 208.28 279.58 C208.51 279.14 208.73 278.70 208.96 278.26 C209.19 277.83 209.42 277.39 209.65 276.95 C209.88 276.52 210.12 276.08 210.35 275.65 C210.59 275.22 210.82 274.79 211.06 274.36 C211.30 273.93 211.54 273.50 211.78 273.08 C212.02 272.66 212.27 272.23 212.51 271.81 C212.76 271.39 213.01 270.97 213.26 270.56 C213.51 270.14 213.76 269.73 214.01 269.31 C214.27 268.90 214.52 268.49 214.78 268.08 C215.04 267.67 215.30 267.27 215.56 266.86 C215.82 266.46 216.08 266.05 216.35 265.65 C216.61 265.25 216.88 264.85 217.15 264.45 C217.42 264.05 217.69 263.65 217.96 263.26 C218.23 262.86 218.50 262.47 218.77 262.07 C219.04 261.68 219.32 261.29 219.59 260.89 C219.87 260.50 220.15 260.11 220.42 259.72 C220.70 259.33 220.98 258.95 221.26 258.56 C221.54 258.17 221.82 257.78 222.10 257.40 C222.38 257.01 222.66 256.63 222.94 256.24 C223.22 255.85 223.50 255.47 223.78 255.08 C224.07 254.70 224.35 254.32 224.63 253.93 C224.91 253.55 225.20 253.17 225.48 252.78 C225.77 252.40 226.05 252.02 226.34 251.64 C226.63 251.26 226.92 250.88 227.20 250.50 C227.49 250.13 227.79 249.75 228.08 249.38 C228.37 249.00 228.66 248.63 228.96 248.26 C229.25 247.89 229.55 247.52 229.85 247.15 C230.15 246.78 230.45 246.41 230.75 246.05 C231.05 245.68 231.35 245.32 231.66 244.96 C231.96 244.59 232.27 244.23 232.57 243.87 C232.88 243.51 233.19 243.15 233.49 242.79 C233.80 242.44 234.11 242.08 234.42 241.72 C234.73 241.36 235.03 241.00 235.34 240.64 C235.65 240.29 235.96 239.93 236.27 239.57 C236.58 239.21 236.89 238.86 237.20 238.50 C237.51 238.15 237.82 237.79 238.14 237.44 C238.45 237.08 238.76 236.73 239.08 236.38 C239.39 236.02 239.71 235.67 240.02 235.32 C240.34 234.97 240.66 234.62 240.98 234.28 C241.29 233.93 241.61 233.58 241.93 233.23 C242.26 232.89 242.58 232.54 242.90 232.20 C243.22 231.86 243.55 231.52 243.88 231.18 C244.20 230.83 244.53 230.49 244.86 230.16 C245.18 229.82 245.51 229.48 245.84 229.14 C246.18 228.81 246.51 228.47 246.84 228.14 C247.17 227.81 247.51 227.48 247.84 227.14 C248.18 226.81 248.52 226.48 248.86 226.16 C249.20 225.83 249.54 225.50 249.88 225.18 C250.22 224.85 250.56 224.53 250.90 224.20 C251.25 223.88 251.59 223.56 251.94 223.24 C252.28 222.92 252.63 222.60 252.98 222.28 C253.33 221.96 253.68 221.64 254.03 221.33 C254.38 221.01 254.73 220.69 255.08 220.38 C255.43 220.06 255.78 219.75 256.13 219.43 C256.49 219.12 256.84 218.81 257.19 218.49 C257.54 218.18 257.90 217.86 258.25 217.55 C258.60 217.23 258.95 216.92 259.30 216.60 C259.65 216.28 260.00 215.97 260.35 215.65 C260.69 215.33 261.04 215.01 261.39 214.69 C261.73 214.36 262.07 214.04 262.42 213.72 C262.76 213.39 263.10 213.07 263.44 212.74 C263.78 212.42 264.12 212.09 264.47 211.77 C264.81 211.44 265.15 211.12 265.50 210.80 C265.85 210.48 266.20 210.17 266.55 209.85 C266.90 209.54 267.26 209.23 267.62 208.92 C267.97 208.61 268.33 208.30 268.70 208.00 C269.06 207.69 269.42 207.39 269.79 207.09 C270.16 206.79 270.52 206.49 270.90 206.20 C271.27 205.90 271.64 205.61 272.01 205.31 C272.39 205.02 272.76 204.73 273.14 204.44 C273.52 204.15 273.90 203.87 274.28 203.58 C274.66 203.30 275.05 203.01 275.43 202.73 C275.81 202.45 276.20 202.17 276.59 201.89 C276.97 201.61 277.36 201.33 277.75 201.05 C278.13 200.77 278.52 200.49 278.91 200.21 C279.29 199.93 279.68 199.64 280.06 199.36 C280.45 199.08 280.83 198.80 281.22 198.52 C281.60 198.24 281.99 197.95 282.37 197.67 C282.76 197.39 283.14 197.11 283.53 196.83 C283.91 196.54 284.30 196.26 284.68 195.98 C285.07 195.70 285.45 195.42 285.84 195.14 C286.22 194.86 286.61 194.58 287.00 194.30 C287.38 194.02 287.77 193.73 288.15 193.45 C288.54 193.17 288.92 192.89 289.30 192.60 C289.68 192.32 290.07 192.03 290.44 191.74 C290.82 191.46 291.20 191.17 291.57 190.87 C291.95 190.58 292.32 190.29 292.69 189.99 C293.05 189.69 293.42 189.39 293.78 189.08 C294.14 188.77 294.50 188.46 294.85 188.15 C295.20 187.84 295.55 187.52 295.89 187.19 C296.23 186.87 296.57 186.54 296.91 186.21 C297.24 185.88 297.58 185.54 297.91 185.21 C298.23 184.87 298.56 184.53 298.88 184.18 C299.21 183.84 299.53 183.49 299.84 183.14 C300.16 182.79 300.47 182.44 300.78 182.08 C301.09 181.72 301.40 181.36 301.70 181.00 C302.00 180.63 302.30 180.27 302.59 179.89 C302.88 179.52 303.17 179.14 303.45 178.75 C303.73 178.37 304.01 177.98 304.28 177.58 C304.55 177.19 304.82 176.78 305.08 176.38 C305.34 175.97 305.60 175.56 305.85 175.15 C306.10 174.73 306.34 174.31 306.58 173.88 C306.83 173.46 307.06 173.03 307.29 172.59 C307.53 172.16 307.75 171.72 307.98 171.28 C308.20 170.83 308.42 170.38 308.63 169.93 C308.85 169.48 309.05 169.02 309.26 168.56 C309.46 168.10 309.67 167.63 309.86 167.16 C310.06 166.70 310.26 166.22 310.45 165.75 C310.64 165.28 310.84 164.80 311.03 164.33 C311.21 163.85 311.40 163.37 311.59 162.89 C311.77 162.41 311.96 161.92 312.14 161.44 C312.32 160.95 312.50 160.46 312.67 159.97 C312.85 159.48 313.03 158.99 313.20 158.50 C313.37 158.01 313.55 157.51 313.72 157.02 C313.89 156.52 314.06 156.02 314.22 155.52 C314.39 155.02 314.55 154.52 314.72 154.02 C314.88 153.51 315.04 153.01 315.20 152.50 C315.36 151.99 315.52 151.48 315.68 150.98 C315.83 150.47 315.99 149.96 316.15 149.45 C316.30 148.93 316.46 148.42 316.61 147.91 C316.77 147.40 316.92 146.89 317.08 146.38 C317.23 145.86 317.38 145.35 317.54 144.84 C317.69 144.32 317.84 143.80 317.99 143.29 C318.14 142.77 318.29 142.26 318.44 141.74 C318.60 141.23 318.75 140.72 318.91 140.21 C319.07 139.70 319.23 139.19 319.39 138.69 C319.55 138.19 319.72 137.68 319.89 137.19 C320.05 136.69 320.23 136.19 320.40 135.70 C320.58 135.22 320.76 134.73 320.95 134.25 C321.14 133.77 321.33 133.30 321.53 132.83 C321.72 132.36 321.93 131.89 322.14 131.44 C322.35 130.98 322.56 130.53 322.79 130.09 C323.01 129.64 323.24 129.20 323.48 128.78 C323.71 128.35 323.96 127.93 324.21 127.51 C324.46 127.10 324.73 126.69 325.00 126.30 C325.27 125.91 325.55 125.52 325.84 125.14 C326.13 124.77 326.43 124.40 326.74 124.04 C327.06 123.69 327.38 123.34 327.71 123.01 C328.05 122.68 328.39 122.36 328.75 122.05 C329.11 121.75 329.49 121.45 329.87 121.17 C330.26 120.89 330.66 120.62 331.07 120.37 C331.49 120.12 331.92 119.88 332.36 119.66 C332.80 119.44 333.27 119.22 333.73 119.03 C334.21 118.84 334.70 118.66 335.19 118.49 C335.70 118.33 336.22 118.18 336.74 118.04 C337.27 117.91 337.83 117.78 338.38 117.68 C338.93 117.57 339.51 117.47 340.09 117.39 C340.67 117.30 341.28 117.23 341.87 117.17 C342.48 117.11 343.10 117.06 343.72 117.02 C344.35 116.98 344.99 116.95 345.62 116.92 C346.27 116.90 346.92 116.90 347.57 116.90 C348.22 116.90 348.89 116.90 349.55 116.90 C350.21 116.90 350.88 116.90 351.54 116.90 C352.21 116.90 352.88 116.90 353.55 116.90 C354.22 116.90 354.89 116.90 355.56 116.90 C356.23 116.90 356.90 116.90 357.57 116.90 C358.24 116.90 358.91 116.90 359.58 116.90 C360.25 116.90 360.92 116.90 361.59 116.90 C362.26 116.90 362.93 116.90 363.60 116.90 C364.26 116.90 364.93 116.90 365.60 116.90 C366.27 116.90 366.93 116.90 367.60 116.90 C368.27 116.90 368.94 116.90 369.60 116.90 C370.27 116.90 370.94 116.90 371.60 116.90 C372.27 116.90 372.94 116.90 373.60 116.90 C374.27 116.90 374.94 116.90 375.60 116.90 C376.27 116.90 376.93 116.90 377.60 116.90 C378.27 116.90 378.93 116.90 379.60 116.90 C380.27 116.90 380.93 116.90 381.60 116.90 C382.27 116.90 382.93 116.90 383.60 116.90 C384.75 116.90 387.68 116.90 388.50 116.90" stroke="#808000" stroke-width="2" stroke-linejoin="round"/>
<path d="M77.50 393.97 C77.83 393.97 78.82 393.97 79.47 393.97 C80.14 393.97 80.81 393.97 81.48 393.98 C82.14 393.98 82.81 393.98 83.48 393.98 C84.15 393.98 84.82 393.98 85.48 393.98 C86.15 393.99 86.82 393.99 87.49 393.99 C88.16 394.00 88.83 394.00 89.51 394.01 C90.18 394.01 90.85 394.02 91.52 394.02 C92.20 394.03 92.87 394.04 93.54 394.04 C94.22 394.05 94.90 394.06 95.57 394.07 C96.25 394.08 96.93 394.09 97.61 394.11 C98.28 394.12 98.97 394.13 99.65 394.15 C100.33 394.16 101.01 394.18 101.69 394.19 C102.38 394.21 103.06 394.23 103.75 394.25 C104.43 394.26 105.12 394.28 105.80 394.30 C106.49 394.32 107.18 394.35 107.87 394.37 C108.56 394.39 109.25 394.41 109.93 394.43 C110.62 394.46 111.31 394.48 112.00 394.50 C112.69 394.53 113.38 394.55 114.08 394.58 C114.77 394.60 115.46 394.62 116.15 394.65 C116.84 394.67 117.53 394.69 118.22 394.72 C118.91 394.74 119.60 394.76 120.28 394.78 C120.97 394.81 121.66 394.83 122.35 394.85 C123.03 394.87 123.72 394.89 124.41 394.91 C125.09 394.92 125.78 394.94 126.46 394.96 C127.14 394.97 127.82 394.99 128.50 395.00 C129.17 395.01 129.85 395.02 130.52 395.02 C131.19 395.03 131.86 395.03 132.52 395.02 C133.18 395.02 133.85 395.01 134.50 395.00 C135.15 394.99 135.81 394.97 136.45 394.95 C137.09 394.93 137.73 394.90 138.36 394.86 C138.99 394.83 139.62 394.79 140.24 394.74 C140.84 394.69 141.46 394.63 142.06 394.56 C142.65 394.49 143.25 394.42 143.83 394.33 C144.41 394.25 144.99 394.15 145.55 394.05 C146.11 393.95 146.67 393.83 147.21 393.71 C147.75 393.59 148.29 393.45 148.81 393.31 C149.32 393.17 149.84 393.01 150.34 392.84 C150.84 392.68 151.33 392.50 151.81 392.31 C152.29 392.13 152.76 391.93 153.22 391.72 C153.67 391.51 154.13 391.29 154.57 391.07 C155.00 390.84 155.43 390.60 155.85 390.35 C156.27 390.10 156.68 389.84 157.08 389.58 C157.47 389.31 157.87 389.03 158.25 388.75 C158.63 388.46 159.00 388.17 159.36 387.86 C159.73 387.56 160.08 387.25 160.43 386.93 C160.78 386.61 161.12 386.29 161.45 385.95 C161.78 385.62 162.11 385.27 162.43 384.93 C162.75 384.58 163.06 384.22 163.36 383.86 C163.67 383.50 163.97 383.13 164.26 382.76 C164.56 382.39 164.84 382.01 165.13 381.63 C165.41 381.25 165.69 380.86 165.97 380.47 C166.24 380.08 166.51 379.68 166.78 379.28 C167.05 378.89 167.32 378.48 167.58 378.08 C167.85 377.68 168.11 377.28 168.37 376.87 C168.63 376.46 168.89 376.06 169.15 375.65 C169.41 375.24 169.67 374.83 169.92 374.42 C170.18 374.02 170.44 373.61 170.70 373.20 C170.95 372.79 171.21 372.38 171.47 371.97 C171.72 371.56 171.98 371.15 172.24 370.74 C172.49 370.33 172.75 369.92 173.01 369.51 C173.27 369.10 173.53 368.69 173.79 368.29 C174.04 367.88 174.30 367.47 174.56 367.06 C174.82 366.65 175.07 366.24 175.33 365.83 C175.58 365.42 175.84 365.00 176.09 364.59 C176.34 364.18 176.59 363.76 176.84 363.34 C177.09 362.93 177.34 362.51 177.59 362.09 C177.84 361.67 178.08 361.25 178.33 360.83 C178.57 360.40 178.81 359.98 179.05 359.55 C179.30 359.13 179.54 358.70 179.78 358.28 C180.02 357.85 180.25 357.42 180.49 356.99 C180.72 356.56 180.96 356.12 181.19 355.69 C181.42 355.26 181.65 354.82 181.88 354.38 C182.11 353.95 182.34 353.51 182.57 353.07 C182.80 352.63 183.02 352.19 183.25 351.75 C183.48 351.31 183.70 350.87 183.93 350.43 C184.15 349.98 184.37 349.54 184.60 349.10 C184.82 348.65 185.04 348.21 185.27 347.77 C185.49 347.32 185.71 346.88 185.94 346.44 C186.16 345.99 186.38 345.55 186.61 345.11 C186.83 344.67 187.06 344.22 187.28 343.78 C187.51 343.34 187.73 342.90 187.96 342.46 C188.19 342.02 188.41 341.58 188.64 341.14 C188.87 340.71 189.10 340.27 189.33 339.83 C189.56 339.40 189.79 338.96 190.03 338.53 C190.26 338.09 190.49 337.66 190.73 337.23 C190.96 336.80 191.20 336.36 191.43 335.93 C191.67 335.50 191.91 335.07 192.14 334.64 C192.38 334.22 192.62 333.79 192.86 333.36 C193.10 332.93 193.34 332.50 193.58 332.08 C193.82 331.65 194.06 331.22 194.30 330.80 C194.53 330.37 194.77 329.94 195.01 329.51 C195.25 329.08 195.49 328.65 195.72 328.22 C195.96 327.79 196.20 327.36 196.43 326.93 C196.67 326.50 196.90 326.07 197.13 325.63 C197.37 325.20 197.60 324.77 197.83 324.33 C198.06 323.90 198.29 323.46 198.52 323.02 C198.75 322.59 198.98 322.15 199.21 321.71 C199.44 321.27 199.67 320.83 199.90 320.40 C200.12 319.96 200.35 319.52 200.57 319.07 C200.80 318.63 201.03 318.19 201.25 317.75 C201.48 317.31 201.70 316.87 201.92 316.42 C202.15 315.98 202.37 315.54 202.60 315.10 C202.82 314.65 203.04 314.21 203.27 313.77 C203.49 313.32 203.71 312.88 203.94 312.44 C204.16 311.99 204.38 311.55 204.61 311.11 C204.83 310.66 205.05 310.22 205.27 309.77 C205.50 309.33 205.72 308.89 205.95 308.45 C206.17 308.00 206.39 307.56 206.62 307.12 C206.84 306.68 207.07 306.24 207.29 305.79 C207.52 305.35 207.75 304.91 207.97 304.47 C208.20 304.03 208.42 303.59 208.65 303.15 C208.87 302.71 209.10 302.27 209.33 301.83 C209.55 301.39 209.78 300.95 210.00 300.50 C210.23 300.06 210.46 299.62 210.68 299.18 C210.91 298.74 211.13 298.30 211.36 297.86 C211.58 297.42 211.81 296.98 212.04 296.54 C212.26 296.10 212.49 295.66 212.72 295.22 C212.94 294.78 213.17 294.34 213.40 293.90 C213.63 293.46 213.86 293.02 214.08 292.58 C214.31 292.14 214.54 291.70 214.76 291.26 C214.99 290.82 215.22 290.38 215.44 289.94 C215.67 289.50 215.89 289.06 216.12 288.62 C216.35 288.18 216.57 287.74 216.80 287.30 C217.03 286.86 217.26 286.42 217.49 285.99 C217.71 285.55 217.95 285.11 218.18 284.68 C218.41 284.24 218.64 283.81 218.88 283.38 C219.11 282.95 219.35 282.52 219.59 282.09 C219.83 281.66 220.07 281.24 220.31 280.81 C220.56 280.39 220.80 279.97 221.05 279.55 C221.29 279.13 221.54 278.71 221.80 278.30 C222.05 277.88 222.30 277.47 222.56 277.06 C222.81 276.65 223.07 276.24 223.34 275.84 C223.60 275.43 223.86 275.03 224.13 274.63 C224.39 274.23 224.66 273.83 224.94 273.44 C225.21 273.04 225.48 272.65 225.76 272.26 C226.03 271.87 226.31 271.48 226.59 271.09 C226.87 270.71 227.16 270.32 227.44 269.94 C227.73 269.56 228.01 269.18 228.30 268.80 C228.59 268.42 228.88 268.04 229.17 267.67 C229.46 267.29 229.75 266.92 230.05 266.55 C230.34 266.17 230.63 265.80 230.93 265.43 C231.22 265.06 231.52 264.68 231.81 264.31 C232.11 263.94 232.41 263.57 232.70 263.20 C233.00 262.83 233.29 262.46 233.59 262.09 C233.89 261.72 234.18 261.35 234.48 260.98 C234.77 260.61 235.07 260.24 235.36 259.86 C235.66 259.49 235.95 259.12 236.25 258.75 C236.54 258.37 236.83 258.00 237.12 257.62 C237.41 257.25 237.70 256.87 237.99 256.49 C238.28 256.11 238.57 255.73 238.85 255.35 C239.14 254.97 239.42 254.59 239.70 254.20 C239.99 253.82 240.27 253.43 240.55 253.05 C240.83 252.66 241.11 252.27 241.38 251.88 C241.66 251.50 241.94 251.11 242.22 250.72 C242.50 250.33 242.77 249.94 243.05 249.55 C243.33 249.16 243.61 248.78 243.89 248.39 C244.17 248.00 244.45 247.61 244.73 247.23 C245.01 246.84 245.29 246.45 245.57 246.07 C245.85 245.69 246.14 245.30 246.42 244.92 C246.71 244.54 246.99 244.16 247.28 243.78 C247.57 243.40 247.86 243.02 248.15 242.65 C248.44 242.28 248.74 241.90 249.03 241.53 C249.33 241.16 249.63 240.79 249.93 240.43 C250.23 240.06 250.53 239.70 250.84 239.34 C251.14 238.97 251.45 238.62 251.76 238.26 C252.07 237.91 252.39 237.55 252.70 237.20 C253.02 236.85 253.34 236.51 253.66 236.16 C253.99 235.82 254.31 235.48 254.64 235.14 C254.97 234.80 255.30 234.47 255.64 234.14 C255.97 233.81 256.31 233.48 256.65 233.15 C257.00 232.83 257.34 232.51 257.69 232.19 C258.03 231.87 258.38 231.55 258.74 231.24 C259.09 230.92 259.44 230.61 259.80 230.30 C260.16 229.99 260.52 229.68 260.88 229.38 C261.24 229.07 261.60 228.77 261.96 228.46 C262.33 228.16 262.70 227.86 263.06 227.56 C263.43 227.26 263.80 226.96 264.17 226.67 C264.53 226.37 264.90 226.07 265.27 225.77 C265.64 225.48 266.01 225.18 266.39 224.89 C266.76 224.59 267.13 224.29 267.50 224.00 C267.87 223.70 268.24 223.41 268.61 223.11 C268.99 222.82 269.36 222.53 269.73 222.23 C270.10 221.94 270.47 221.64 270.85 221.35 C271.22 221.05 271.59 220.76 271.96 220.46 C272.33 220.17 272.70 219.87 273.08 219.58 C273.45 219.28 273.82 218.98 274.19 218.69 C274.56 218.39 274.93 218.10 275.30 217.80 C275.67 217.50 276.04 217.20 276.41 216.91 C276.78 216.61 277.14 216.31 277.51 216.01 C277.88 215.71 278.25 215.41 278.61 215.11 C278.98 214.81 279.34 214.51 279.70 214.20 C280.07 213.90 280.43 213.59 280.79 213.29 C281.15 212.98 281.51 212.68 281.87 212.37 C282.23 212.07 282.59 211.76 282.95 211.45 C283.31 211.15 283.67 210.84 284.04 210.54 C284.40 210.23 284.76 209.93 285.12 209.62 C285.49 209.32 285.85 209.02 286.22 208.72 C286.58 208.41 286.95 208.11 287.32 207.82 C287.68 207.52 288.05 207.22 288.42 206.92 C288.79 206.63 289.17 206.33 289.54 206.04 C289.91 205.75 290.29 205.45 290.66 205.16 C291.04 204.87 291.42 204.59 291.80 204.30 C292.18 204.01 292.56 203.73 292.94 203.44 C293.33 203.16 293.71 202.88 294.10 202.60 C294.49 202.32 294.88 202.04 295.27 201.77 C295.66 201.49 296.05 201.22 296.45 200.95 C296.84 200.67 297.24 200.40 297.63 200.13 C298.03 199.86 298.43 199.59 298.83 199.33 C299.22 199.06 299.62 198.79 300.02 198.52 C300.41 198.25 300.81 197.98 301.21 197.71 C301.61 197.44 302.00 197.17 302.40 196.90 C302.80 196.63 303.19 196.36 303.59 196.09 C303.99 195.82 304.38 195.55 304.77 195.27 C305.17 195.00 305.56 194.73 305.95 194.45 C306.34 194.18 306.73 193.90 307.12 193.62 C307.51 193.35 307.90 193.07 308.29 192.79 C308.68 192.51 309.07 192.24 309.46 191.96 C309.84 191.68 310.23 191.40 310.62 191.12 C311.01 190.84 311.39 190.56 311.78 190.28 C312.17 190.00 312.55 189.72 312.94 189.44 C313.32 189.16 313.71 188.87 314.09 188.59 C314.47 188.31 314.86 188.02 315.24 187.74 C315.62 187.45 316.00 187.17 316.38 186.88 C316.76 186.59 317.14 186.30 317.51 186.01 C317.89 185.72 318.27 185.43 318.64 185.14 C319.02 184.85 319.39 184.56 319.76 184.26 C320.14 183.97 320.51 183.68 320.88 183.38 C321.26 183.09 321.63 182.79 322.00 182.50 C322.37 182.21 322.75 181.91 323.12 181.62 C323.49 181.33 323.87 181.03 324.24 180.74 C324.62 180.45 325.00 180.16 325.37 179.87 C325.75 179.59 326.13 179.30 326.51 179.01 C326.89 178.73 327.28 178.44 327.66 178.16 C328.04 177.87 328.42 177.59 328.81 177.31 C329.19 177.02 329.57 176.74 329.96 176.46 C330.34 176.17 330.72 175.89 331.11 175.61 C331.49 175.32 331.87 175.04 332.25 174.75 C332.63 174.47 333.01 174.18 333.39 173.89 C333.77 173.60 334.14 173.31 334.52 173.02 C334.89 172.72 335.26 172.43 335.63 172.13 C335.99 171.83 336.36 171.52 336.71 171.21 C337.07 170.91 337.43 170.59 337.78 170.28 C338.12 169.96 338.46 169.63 338.80 169.30 C339.13 168.97 339.46 168.63 339.78 168.28 C340.10 167.94 340.42 167.58 340.73 167.23 C341.04 166.87 341.34 166.51 341.64 166.14 C341.93 165.77 342.23 165.39 342.51 165.01 C342.80 164.63 343.08 164.25 343.35 163.85 C343.63 163.46 343.90 163.06 344.16 162.66 C344.42 162.26 344.68 161.85 344.93 161.43 C345.18 161.02 345.43 160.60 345.67 160.17 C345.91 159.75 346.15 159.31 346.38 158.88 C346.61 158.45 346.84 158.01 347.06 157.56 C347.29 157.12 347.51 156.67 347.72 156.22 C347.94 155.77 348.15 155.31 348.35 154.85 C348.56 154.40 348.77 153.93 348.97 153.47 C349.17 153.00 349.37 152.53 349.56 152.06 C349.76 151.59 349.95 151.12 350.15 150.65 C350.34 150.17 350.53 149.69 350.71 149.21 C350.90 148.74 351.09 148.25 351.27 147.77 C351.46 147.29 351.64 146.81 351.83 146.33 C352.01 145.84 352.19 145.36 352.38 144.88 C352.56 144.39 352.74 143.91 352.92 143.42 C353.11 142.94 353.29 142.46 353.47 141.97 C353.66 141.49 353.84 141.01 354.03 140.53 C354.22 140.05 354.41 139.57 354.60 139.10 C354.79 138.62 354.98 138.14 355.17 137.67 C355.36 137.20 355.56 136.73 355.76 136.26 C355.95 135.79 356.15 135.32 356.36 134.86 C356.56 134.39 356.76 133.93 356.97 133.47 C357.18 133.02 357.40 132.56 357.61 132.11 C357.83 131.67 358.05 131.22 358.28 130.78 C358.51 130.35 358.74 129.91 358.98 129.48 C359.22 129.06 359.47 128.64 359.72 128.22 C359.98 127.81 360.24 127.41 360.51 127.01 C360.78 126.61 361.06 126.22 361.34 125.84 C361.63 125.46 361.93 125.09 362.23 124.73 C362.54 124.37 362.85 124.02 363.18 123.68 C363.51 123.34 363.85 123.01 364.20 122.70 C364.55 122.38 364.91 122.08 365.29 121.79 C365.66 121.50 366.05 121.21 366.45 120.95 C366.85 120.69 367.27 120.43 367.70 120.20 C368.13 119.96 368.57 119.73 369.03 119.53 C369.48 119.32 369.96 119.12 370.44 118.94 C370.92 118.76 371.43 118.59 371.94 118.44 C372.45 118.28 372.99 118.14 373.52 118.02 C374.06 117.89 374.62 117.77 375.17 117.67 C375.74 117.57 376.32 117.48 376.90 117.40 C377.49 117.32 378.10 117.25 378.70 117.20 C379.30 117.14 379.93 117.09 380.55 117.05 C381.17 117.01 381.81 116.97 382.45 116.95 C383.09 116.92 383.74 116.91 384.39 116.90 C385.04 116.89 385.70 116.90 386.36 116.90 C387.02 116.90 387.69 116.90 388.35 116.90 C389.01 116.90 389.68 116.90 390.35 116.90 C391.02 116.90 391.69 116.90 392.36 116.90 C393.03 116.90 393.70 116.90 394.37 116.90 C395.04 116.90 395.71 116.90 396.38 116.90 C397.05 116.90 397.72 116.90 398.39 116.90 C399.06 116.90 399.73 116.90 400.39 116.90 C401.06 116.90 401.73 116.90 402.40 116.90 C403.07 116.90 403.73 116.90 404.40 116.90 C405.07 116.90 405.73 116.90 406.40 116.90 C407.07 116.90 407.74 116.90 408.40 116.90 C409.07 116.90 409.74 116.90 410.40 116.90 C411.07 116.90 411.74 116.90 412.40 116.90 C413.07 116.90 413.73 116.90 414.40 116.90 C415.07 116.90 415.73 116.90 416.40 116.90 C417.07 116.90 417.73 116.90 418.40 116.90 C419.07 116.90 419.73 116.90 420.40 116.90 C421.07 116.90 422.07 116.90 422.40 116.90" stroke="#808000" stroke-width="2" stroke-linejoin="round"/>
<path d="M77.50 116.90 L388.50 116.90" stroke="#808000" stroke-width="2" stroke-linejoin="round"/>
<path d="M77.50 116.90 L388.50 116.90" stroke="#3c3c3c" stroke-width="1.55" stroke-dasharray="1.15 1.75" stroke-dashoffset="2.20"/>
<path d="M77.50 120.80 L79.50 120.80 L81.50 120.80 L83.50 120.80 L85.50 120.80 L87.50 120.80 L89.50 120.80 L91.50 120.80 L93.50 120.80 L95.50 120.80 L97.50 120.80 L99.50 120.80 L101.50 120.80 L103.50 120.80 L105.50 120.80 L107.50 120.80 L109.50 120.80 L111.50 120.80 L113.50 120.80 L115.50 120.80 L117.49 120.79 L119.48 120.78 L121.47 120.77 L123.46 120.76 L125.44 120.74 L127.43 120.73 L129.41 120.71 L131.39 120.69 L133.38 120.68 L135.36 120.66 L137.34 120.64 L139.32 120.62 L141.30 120.60 L143.29 120.59 L145.27 120.57 L147.26 120.56 L149.24 120.54 L151.23 120.53 L153.22 120.52 L155.20 120.50 L157.19 120.49 L159.18 120.48 L161.16 120.46 L163.15 120.45 L165.14 120.44 L167.13 120.43 L169.11 120.41 L171.10 120.40 L173.09 120.39 L175.07 120.37 L177.06 120.36 L179.04 120.34 L181.02 120.32 L183.00 120.30 L184.98 120.28 L186.95 120.25 L188.93 120.23 L190.90 120.20 L192.86 120.16 L194.82 120.12 L196.78 120.08 L198.74 120.04 L200.69 119.99 L202.63 119.93 L204.57 119.87 L206.51 119.81 L208.44 119.74 L210.36 119.66 L212.28 119.58 L214.18 119.48 L216.09 119.39 L217.98 119.28 L219.87 119.17 L221.75 119.05 L223.63 118.93 L225.51 118.81 L227.38 118.68 L229.25 118.55 L231.12 118.42 L232.99 118.29 L234.86 118.16 L236.74 118.04 L238.62 117.92 L240.50 117.80 L242.39 117.69 L244.29 117.59 L246.19 117.49 L248.10 117.40 L250.02 117.32 L251.94 117.24 L253.88 117.18 L255.82 117.12 L257.77 117.07 L259.73 117.03 L261.69 116.99 L263.66 116.96 L265.64 116.94 L267.62 116.92 L269.61 116.91 L271.60 116.90 L273.60 116.90 L275.60 116.90 L277.60 116.90 L279.60 116.90 L281.60 116.90 L283.60 116.90 L285.60 116.90 L287.60 116.90 L289.60 116.90 L291.60 116.90 L293.60 116.90 L295.60 116.90 L297.60 116.90 L299.60 116.90 L301.60 116.90 L303.60 116.90 L305.60 116.90 L307.60 116.90 L388.50 116.90" stroke="#3c3c3c" stroke-width="1.55" stroke-dasharray="1.15 1.75" stroke-dashoffset="2.69"/>
<path d="M77.50 137.40 L79.50 137.40 L81.50 137.40 L83.50 137.40 L85.50 137.40 L87.50 137.40 L89.50 137.40 L91.50 137.40 L93.50 137.40 L95.50 137.40 L97.50 137.40 L99.50 137.40 L101.50 137.40 L103.50 137.40 L105.50 137.40 L107.50 137.40 L109.50 137.40 L111.50 137.40 L113.50 137.40 L115.50 137.40 L117.50 137.40 L119.50 137.40 L121.50 137.40 L123.50 137.40 L125.50 137.40 L127.50 137.40 L129.50 137.40 L131.50 137.40 L133.50 137.40 L135.50 137.40 L137.50 137.40 L139.50 137.40 L141.50 137.40 L143.50 137.40 L145.50 137.40 L147.50 137.40 L149.50 137.40 L151.50 137.40 L153.50 137.40 L155.50 137.40 L157.50 137.40 L159.50 137.40 L161.50 137.40 L163.50 137.40 L165.50 137.40 L167.50 137.40 L169.49 137.39 L171.48 137.38 L173.46 137.36 L175.44 137.34 L177.42 137.32 L179.39 137.29 L181.36 137.26 L183.32 137.22 L185.27 137.17 L187.22 137.12 L189.15 137.05 L191.06 136.96 L192.96 136.86 L194.84 136.74 L196.69 136.59 L198.52 136.42 L200.32 136.22 L202.09 135.99 L203.84 135.74 L205.55 135.45 L207.24 135.14 L208.91 134.81 L210.55 134.45 L212.16 134.06 L213.77 133.67 L215.35 133.25 L216.92 132.82 L218.48 132.38 L220.04 131.94 L221.58 131.48 L223.11 131.01 L224.64 130.54 L226.16 130.06 L227.68 129.58 L229.19 129.09 L230.70 128.60 L232.20 128.10 L233.69 127.59 L235.18 127.08 L236.66 126.56 L238.13 126.03 L239.60 125.50 L241.06 124.96 L242.52 124.42 L243.99 123.89 L245.46 123.36 L246.94 122.84 L248.43 122.33 L249.94 121.84 L251.46 121.36 L253.01 120.91 L254.58 120.48 L256.18 120.08 L257.81 119.71 L259.46 119.36 L261.15 119.05 L262.85 118.75 L264.58 118.48 L266.33 118.23 L268.10 118.00 L269.89 117.79 L271.70 117.60 L273.53 117.43 L275.38 117.28 L277.26 117.16 L279.16 117.06 L281.08 116.98 L283.03 116.93 L285.00 116.90 L286.98 116.90 L288.98 116.90 L290.98 116.90 L292.98 116.90 L294.98 116.90 L296.99 116.90 L298.99 116.90 L301.00 116.90 L303.00 116.90 L305.00 116.90 L307.00 116.90 L309.00 116.90 L311.00 116.90 L313.00 116.90 L315.00 116.90 L317.00 116.90 L319.00 116.90 L388.50 116.90" stroke="#3c3c3c" stroke-width="1.55" stroke-dasharray="1.15 1.75" stroke-dashoffset="0.70"/>
<path d="M77.50 178.90 L79.50 178.90 L81.50 178.90 L83.50 178.90 L85.50 178.90 L87.50 178.90 L89.50 178.90 L91.50 178.90 L93.50 178.90 L95.50 178.90 L97.50 178.90 L99.50 178.90 L101.50 178.90 L103.50 178.90 L105.50 178.90 L107.50 178.90 L109.50 178.90 L111.50 178.90 L113.50 178.90 L115.50 178.90 L117.50 178.90 L119.50 178.90 L121.50 178.90 L123.50 178.90 L125.50 178.90 L127.50 178.90 L129.50 178.90 L131.50 178.90 L133.50 178.90 L135.50 178.90 L137.50 178.90 L139.50 178.90 L141.50 178.90 L143.50 178.90 L145.50 178.90 L147.50 178.90 L149.50 178.90 L151.50 178.90 L153.50 178.90 L155.50 178.90 L157.51 178.91 L159.51 178.91 L161.51 178.91 L163.51 178.91 L165.50 178.90 L167.50 178.90 L169.48 178.88 L171.47 178.87 L173.44 178.84 L175.41 178.81 L177.37 178.77 L179.33 178.73 L181.27 178.67 L183.21 178.61 L185.15 178.55 L187.07 178.47 L188.99 178.39 L190.90 178.30 L192.80 178.20 L194.69 178.09 L196.57 177.97 L198.44 177.84 L200.29 177.69 L202.13 177.53 L203.95 177.35 L205.75 177.15 L207.51 176.91 L209.25 176.65 L210.96 176.36 L212.63 176.03 L214.27 175.67 L215.88 175.28 L217.45 174.85 L218.98 174.38 L220.48 173.88 L221.96 173.36 L223.40 172.80 L224.82 172.22 L226.21 171.61 L227.58 170.98 L228.93 170.33 L230.26 169.66 L231.58 168.98 L232.88 168.28 L234.17 167.57 L235.44 166.84 L236.70 166.10 L237.95 165.35 L239.19 164.59 L240.42 163.82 L241.65 163.05 L242.87 162.27 L244.09 161.49 L245.30 160.70 L246.49 159.89 L247.68 159.08 L248.86 158.26 L250.02 157.42 L251.18 156.58 L252.33 155.73 L253.46 154.86 L254.59 153.99 L255.71 153.11 L256.83 152.23 L257.93 151.33 L259.02 150.42 L260.10 149.50 L261.17 148.57 L262.22 147.62 L263.25 146.65 L264.28 145.68 L265.29 144.69 L266.29 143.69 L267.29 142.69 L268.28 141.68 L269.28 140.68 L270.29 139.69 L271.30 138.70 L272.33 137.73 L273.36 136.76 L274.41 135.81 L275.47 134.87 L276.54 133.94 L277.62 133.02 L278.70 132.10 L279.80 131.20 L280.90 130.30 L282.02 129.42 L283.14 128.54 L284.27 127.67 L285.41 126.81 L286.57 125.97 L287.75 125.15 L288.95 124.35 L290.18 123.58 L291.43 122.83 L292.72 122.12 L294.05 121.45 L295.41 120.81 L296.82 120.22 L298.28 119.68 L299.79 119.19 L301.34 118.74 L302.95 118.35 L304.61 118.01 L306.32 117.72 L308.08 117.48 L309.89 117.29 L311.74 117.14 L313.63 117.03 L315.55 116.95 L317.50 116.90 L319.48 116.90 L321.47 116.90 L323.47 116.90 L325.47 116.90 L327.48 116.90 L329.48 116.90 L331.49 116.90 L333.49 116.90 L335.50 116.90 L337.50 116.90 L339.50 116.90 L341.50 116.90 L343.50 116.90 L345.50 116.90 L347.50 116.90 L349.50 116.90 L351.50 116.90 L353.50 116.90 L388.50 116.90" stroke="#3c3c3c" stroke-width="1.55" stroke-dasharray="1.15 1.75" stroke-dashoffset="2.87"/>
<path d="M77.50 216.60 L79.50 216.60 L81.50 216.60 L83.50 216.60 L85.50 216.60 L87.50 216.60 L89.50 216.60 L91.50 216.60 L93.50 216.60 L95.50 216.60 L97.50 216.60 L99.50 216.60 L101.50 216.60 L103.50 216.60 L105.50 216.60 L107.50 216.60 L109.50 216.60 L111.50 216.60 L113.50 216.60 L115.50 216.60 L117.50 216.60 L119.50 216.60 L121.50 216.60 L123.50 216.60 L125.50 216.60 L127.50 216.60 L129.50 216.60 L131.50 216.60 L133.50 216.60 L135.50 216.60 L137.50 216.60 L139.50 216.60 L141.50 216.60 L143.50 216.60 L145.50 216.60 L147.50 216.60 L149.50 216.60 L151.50 216.60 L153.50 216.60 L155.50 216.60 L157.49 216.59 L159.49 216.59 L161.48 216.58 L163.47 216.57 L165.45 216.55 L167.44 216.54 L169.42 216.52 L171.39 216.49 L173.37 216.47 L175.34 216.44 L177.30 216.40 L179.26 216.36 L181.22 216.32 L183.17 216.27 L185.12 216.22 L187.06 216.16 L188.99 216.09 L190.92 216.02 L192.84 215.94 L194.75 215.85 L196.65 215.75 L198.54 215.64 L200.41 215.51 L202.26 215.36 L204.11 215.21 L205.93 215.03 L207.74 214.84 L209.53 214.63 L211.30 214.40 L213.06 214.16 L214.80 213.90 L216.51 213.61 L218.22 213.32 L219.90 213.00 L221.57 212.67 L223.22 212.32 L224.85 211.95 L226.47 211.57 L228.06 211.16 L229.64 210.74 L231.19 210.29 L232.72 209.82 L234.23 209.33 L235.71 208.81 L237.17 208.27 L238.60 207.70 L240.01 207.11 L241.39 206.49 L242.75 205.85 L244.10 205.20 L245.43 204.53 L246.74 203.84 L248.04 203.14 L249.34 202.44 L250.61 201.71 L251.88 200.98 L253.14 200.24 L254.39 199.49 L255.63 198.73 L256.87 197.97 L258.09 197.19 L259.31 196.41 L260.51 195.61 L261.71 194.81 L262.89 193.99 L264.06 193.16 L265.22 192.32 L266.37 191.47 L267.50 190.60 L268.63 189.73 L269.75 188.85 L270.86 187.96 L271.97 187.07 L273.06 186.16 L274.16 185.26 L275.24 184.34 L276.31 183.41 L277.37 182.47 L278.41 181.51 L279.41 180.51 L280.39 179.49 L281.35 178.45 L282.30 177.40 L283.22 176.32 L284.14 175.24 L285.04 174.14 L285.93 173.03 L286.81 171.91 L287.68 170.78 L288.54 169.64 L289.39 168.49 L290.23 167.33 L291.06 166.16 L291.89 164.99 L292.71 163.81 L293.53 162.63 L294.35 161.45 L295.16 160.26 L295.98 159.08 L296.80 157.90 L297.62 156.72 L298.43 155.53 L299.25 154.35 L300.07 153.17 L300.89 151.99 L301.71 150.81 L302.53 149.63 L303.34 148.44 L304.15 147.25 L304.95 146.05 L305.76 144.86 L306.56 143.66 L307.38 142.48 L308.20 141.30 L309.03 140.13 L309.87 138.97 L310.72 137.82 L311.59 136.69 L312.47 135.57 L313.37 134.47 L314.29 133.39 L315.24 132.34 L316.20 131.30 L317.18 130.28 L318.20 129.30 L319.24 128.34 L320.31 127.41 L321.41 126.51 L322.54 125.64 L323.70 124.80 L324.89 123.99 L326.11 123.21 L327.36 122.46 L328.66 121.76 L329.99 121.09 L331.37 120.47 L332.80 119.90 L334.27 119.37 L335.81 118.91 L337.39 118.49 L339.03 118.13 L340.72 117.82 L342.46 117.56 L344.25 117.35 L346.09 117.19 L347.96 117.06 L349.87 116.97 L351.82 116.92 L353.78 116.90 L355.77 116.90 L357.76 116.90 L359.77 116.90 L361.77 116.90 L363.78 116.90 L365.79 116.90 L367.79 116.90 L369.80 116.90 L371.80 116.90 L373.80 116.90 L375.80 116.90 L377.80 116.90 L379.80 116.90 L381.80 116.90 L383.80 116.90 L385.80 116.90 L387.80 116.90 L388.50 116.90" stroke="#3c3c3c" stroke-width="1.55" stroke-dasharray="1.15 1.75" stroke-dashoffset="1.12"/>
</g>
<rect x="77.50" y="92.25" width="311.00" height="316.35" fill="none" stroke="#000" stroke-width="1.6"/>
<text transform="translate(58.69 122.33) scale(1.083 0.985)" font-family="Liberation Sans, sans-serif" font-size="16" fill="#000" stroke="#000" stroke-width="0.45">0</text>
<text transform="translate(58.39 219.65) scale(1.135 1.006)" font-family="Liberation Sans, sans-serif" font-size="16" fill="#000" stroke="#000" stroke-width="0.45">2</text>
<text transform="translate(47.24 219.81) scale(1.115 1.000)" font-family="Liberation Sans, sans-serif" font-size="16" fill="#000" stroke="#000" stroke-width="0.45">−</text>
<text transform="translate(58.97 316.85) scale(1.035 1.017)" font-family="Liberation Sans, sans-serif" font-size="16" fill="#000" stroke="#000" stroke-width="0.45">4</text>
<text transform="translate(47.24 317.01) scale(1.115 1.000)" font-family="Liberation Sans, sans-serif" font-size="16" fill="#000" stroke="#000" stroke-width="0.45">−</text>
<text transform="translate(58.39 413.83) scale(1.135 0.985)" font-family="Liberation Sans, sans-serif" font-size="16" fill="#000" stroke="#000" stroke-width="0.45">6</text>
<text transform="translate(47.24 414.11) scale(1.115 1.000)" font-family="Liberation Sans, sans-serif" font-size="16" fill="#000" stroke="#000" stroke-width="0.45">−</text>
<text transform="translate(250.08 428.53) scale(1.120 0.985)" font-family="Liberation Sans, sans-serif" font-size="16" fill="#000" stroke="#000" stroke-width="0.45">0</text>
<text transform="translate(338.77 428.65) scale(1.174 1.006)" font-family="Liberation Sans, sans-serif" font-size="16" fill="#000" stroke="#000" stroke-width="0.45">2</text>
<text transform="translate(167.25 428.65) scale(1.200 1.006)" font-family="Liberation Sans, sans-serif" font-size="16" fill="#000" stroke="#000" stroke-width="0.45">2</text>
<text transform="translate(156.25 428.61) scale(1.091 1.000)" font-family="Liberation Sans, sans-serif" font-size="16" fill="#000" stroke="#000" stroke-width="0.45">−</text>
<text transform="translate(78.87 428.65) scale(1.047 1.017)" font-family="Liberation Sans, sans-serif" font-size="16" fill="#000" stroke="#000" stroke-width="0.45">4</text>
<text transform="translate(67.24 428.61) scale(1.115 1.000)" font-family="Liberation Sans, sans-serif" font-size="16" fill="#000" stroke="#000" stroke-width="0.45">−</text>
<text transform="translate(210.70 446.84) scale(1.028 0.923)" font-family="Liberation Serif, serif" font-size="16" fill="#000" stroke="#000" stroke-width="0.8">Log</text>
<text transform="translate(246.06 446.89) scale(1.019 0.911)" font-family="Liberation Serif, serif" font-size="16" fill="#000" font-style="italic" stroke="#000" stroke-width="0.9">β</text>
<text transform="translate(99.25 111.98) scale(1.160 0.970)" font-family="Liberation Sans, sans-serif" font-size="11" fill="#484848" font-weight="bold">T=5</text>
<text transform="translate(126.51 112.10) scale(1.051 0.940)" font-family="Liberation Sans, sans-serif" font-size="11" fill="#484848" font-weight="bold">kK</text>
<text transform="translate(115.69 177.08) scale(1.079 0.984)" font-family="Liberation Sans, sans-serif" font-size="11" fill="#484848" font-weight="bold">15</text>
<text transform="translate(114.97 239.88) scale(1.152 0.968)" font-family="Liberation Sans, sans-serif" font-size="11" fill="#484848" font-weight="bold">20</text>
<text transform="translate(115.22 305.68) scale(1.113 0.968)" font-family="Liberation Sans, sans-serif" font-size="11" fill="#484848" font-weight="bold">30</text>
<text transform="translate(114.86 357.38) scale(1.169 0.968)" font-family="Liberation Sans, sans-serif" font-size="11" fill="#484848" font-weight="bold">50</text>
<text transform="translate(114.86 389.58) scale(1.169 0.968)" font-family="Liberation Sans, sans-serif" font-size="11" fill="#484848" font-weight="bold">80</text>
<text transform="translate(264.47 355.21) scale(1.071 0.914)" font-family="Liberation Serif, serif" font-size="14.5" fill="#484848" font-style="italic" stroke="#484848" stroke-width="0.55">ρ</text>
<text transform="translate(272.38 357.33) scale(1.112 1.067)" font-family="Liberation Serif, serif" font-size="14.5" fill="#484848" stroke="#484848" stroke-width="0.6">=</text>
<text transform="translate(283.83 355.45) scale(0.966 0.945)" font-family="Liberation Serif, serif" font-size="14.5" fill="#484848" stroke="#484848" stroke-width="0.65">10</text>
<text transform="translate(299.28 352.99) scale(0.976 1.000)" font-family="Liberation Serif, serif" font-size="9.5" fill="#484848" stroke="#484848" stroke-width="0.7">−</text>
<text transform="translate(305.10 351.99) scale(1.116 0.814)" font-family="Liberation Serif, serif" font-size="9.5" fill="#484848" stroke="#484848" stroke-width="0.7">8</text>
<text transform="translate(317.09 355.72) scale(1.091 0.853)" font-family="Liberation Serif, serif" font-size="14.5" fill="#484848" stroke="#484848" stroke-width="0.6">g</text>
<text transform="translate(332.02 355.47) scale(1.131 0.880)" font-family="Liberation Serif, serif" font-size="14.5" fill="#484848" stroke="#484848" stroke-width="0.6">cm</text>
<text transform="translate(353.50 352.69) scale(0.820 1.000)" font-family="Liberation Serif, serif" font-size="9.5" fill="#484848" stroke="#484848" stroke-width="0.7">−</text>
<text transform="translate(358.25 351.99) scale(1.168 0.814)" font-family="Liberation Serif, serif" font-size="9.5" fill="#484848" stroke="#484848" stroke-width="0.7">3</text>
<text transform="translate(264.47 380.21) scale(1.071 0.914)" font-family="Liberation Serif, serif" font-size="14.5" fill="#484848" font-style="italic" stroke="#484848" stroke-width="0.55">ρ</text>
<text transform="translate(272.38 382.33) scale(1.112 1.067)" font-family="Liberation Serif, serif" font-size="14.5" fill="#484848" stroke="#484848" stroke-width="0.6">=</text>
<text transform="translate(283.83 380.45) scale(0.966 0.945)" font-family="Liberation Serif, serif" font-size="14.5" fill="#484848" stroke="#484848" stroke-width="0.65">10</text>
<text transform="translate(299.28 377.99) scale(0.976 1.000)" font-family="Liberation Serif, serif" font-size="9.5" fill="#484848" stroke="#484848" stroke-width="0.7">−</text>
<text transform="translate(305.23 377.09) scale(1.034 0.829)" font-family="Liberation Serif, serif" font-size="9.5" fill="#484848" stroke="#484848" stroke-width="0.7">4</text>
<text transform="translate(317.09 380.72) scale(1.091 0.853)" font-family="Liberation Serif, serif" font-size="14.5" fill="#484848" stroke="#484848" stroke-width="0.6">g</text>
<text transform="translate(332.02 380.47) scale(1.131 0.880)" font-family="Liberation Serif, serif" font-size="14.5" fill="#484848" stroke="#484848" stroke-width="0.6">cm</text>
<text transform="translate(353.50 377.69) scale(0.820 1.000)" font-family="Liberation Serif, serif" font-size="9.5" fill="#484848" stroke="#484848" stroke-width="0.7">−</text>
<text transform="translate(358.25 376.99) scale(1.168 0.814)" font-family="Liberation Serif, serif" font-size="9.5" fill="#484848" stroke="#484848" stroke-width="0.7">3</text>
<g transform="translate(32.9 274.3) rotate(-90)"><text transform="translate(0.00 0.08) scale(1.093 1.018)" font-family="Liberation Serif, serif" font-size="16" fill="#000" stroke="#000" stroke-width="0.75">log</text><text transform="translate(32.74 -0.37) scale(0.941 0.997)" font-family="Liberation Serif, serif" font-size="16" fill="#000" stroke="#000" stroke-width="0.9">x</text><text transform="translate(41.61 4.59) scale(0.880 1.085)" font-family="Liberation Serif, serif" font-size="10" fill="#000" stroke="#000" stroke-width="0.9">H</text></g>
<path d="M223.8 354 H255" stroke="#808000" stroke-width="2.2"/>
<path d="M224 379 H254.4" stroke="#3c3c3c" stroke-width="1.55" stroke-dasharray="1.15 1.75"/>
</svg>
</body></html>
